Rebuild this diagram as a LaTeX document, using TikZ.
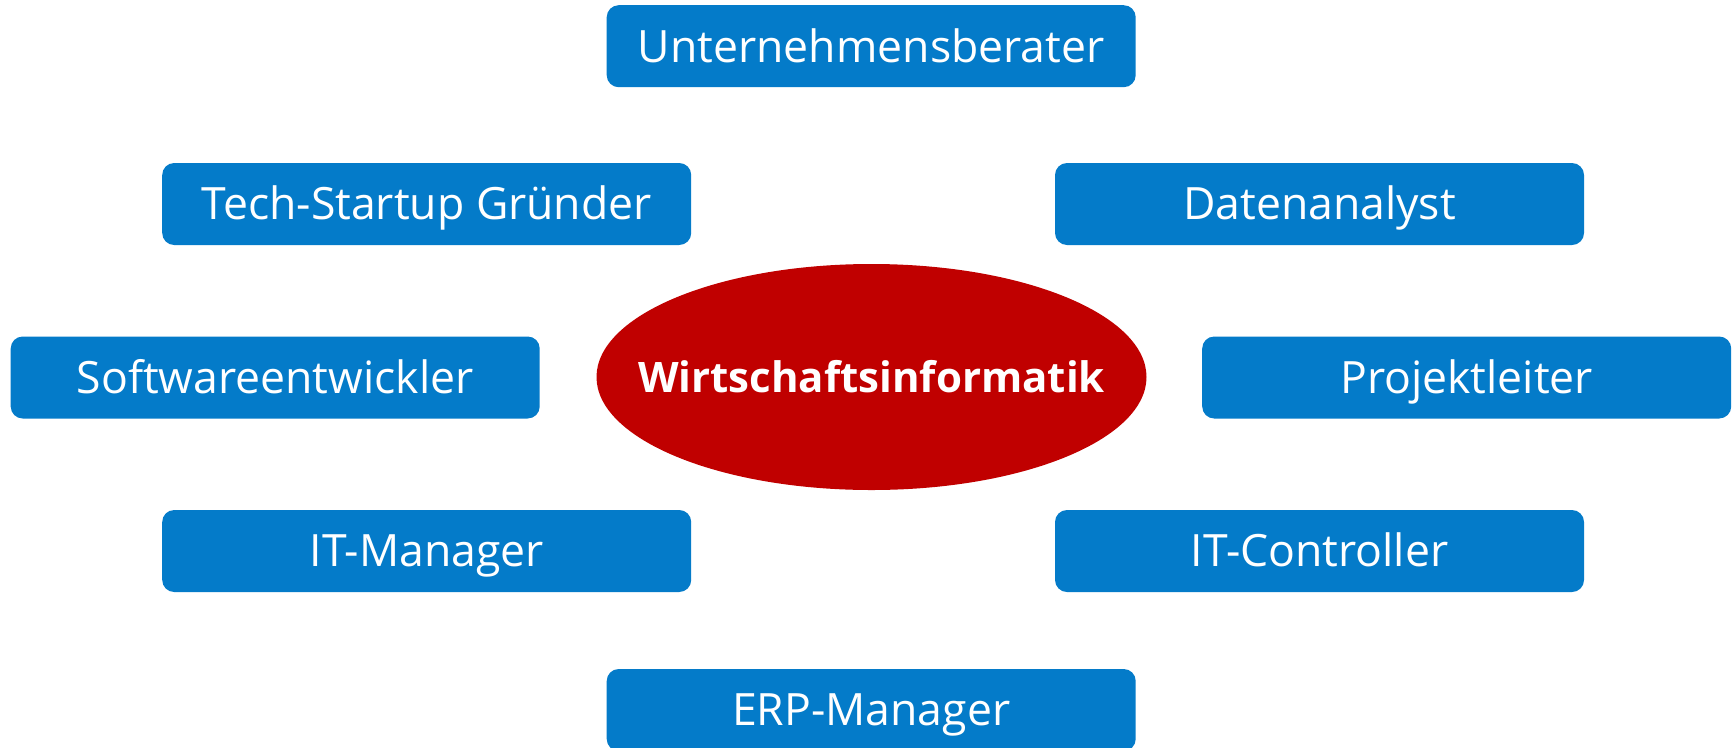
\documentclass[tikz,border=0pt]{standalone}
\usepackage{fontspec}
\setmainfont{Open Sans}
\definecolor{boxblue}{RGB}{4,123,201}
\definecolor{corered}{RGB}{192,0,0}
\usetikzlibrary{shapes.geometric}
\tikzset{
  jobbox/.style={fill=boxblue, draw=none, rounded corners=9pt,
    minimum width=396.75pt, minimum height=61.5pt, inner sep=0pt,
    text=white, font=\fontsize{33.4pt}{36pt}\selectfont,
    text height=23.8pt, text depth=0pt},
  coreshape/.style={ellipse, fill=corered, draw=none,
    minimum width=412.5pt, minimum height=169.5pt, inner sep=0pt},
  coretext/.style={inner sep=0pt, text=white,
    font=\fontsize{31.5pt}{36pt}\selectfont\bfseries,
    text height=22.5pt, text depth=0pt}
}
\begin{document}
\begin{tikzpicture}[x=0.75pt,y=-0.75pt]
\useasboundingbox (0,0) rectangle (1732,747);
\clip (0,0) rectangle (1732,747);
\node[coreshape] (core) at (871.5,377) {};
\node[coretext] (coretxt) at (core.center) {Wirtschaftsinformatik};
\node[jobbox] (ub) at (871.2,46.2) {Unternehmensberater};
\node[jobbox] (tech) at (426.7,204) {Tech-Startup Gründer};
\node[jobbox] (daten) at (1319.5,204) {Datenanalyst};
\node[jobbox] (soft) at (275.2,377.5) {Softwareentwickler};
\node[jobbox] (proj) at (1466.7,377.5) {Projektleiter};
\node[jobbox] (itm) at (426.7,551) {IT-Manager};
\node[jobbox] (itc) at (1319.5,551) {IT-Controller};
\node[jobbox] (erp) at (871.2,710) {ERP-Manager};
\end{tikzpicture}
\end{document}
